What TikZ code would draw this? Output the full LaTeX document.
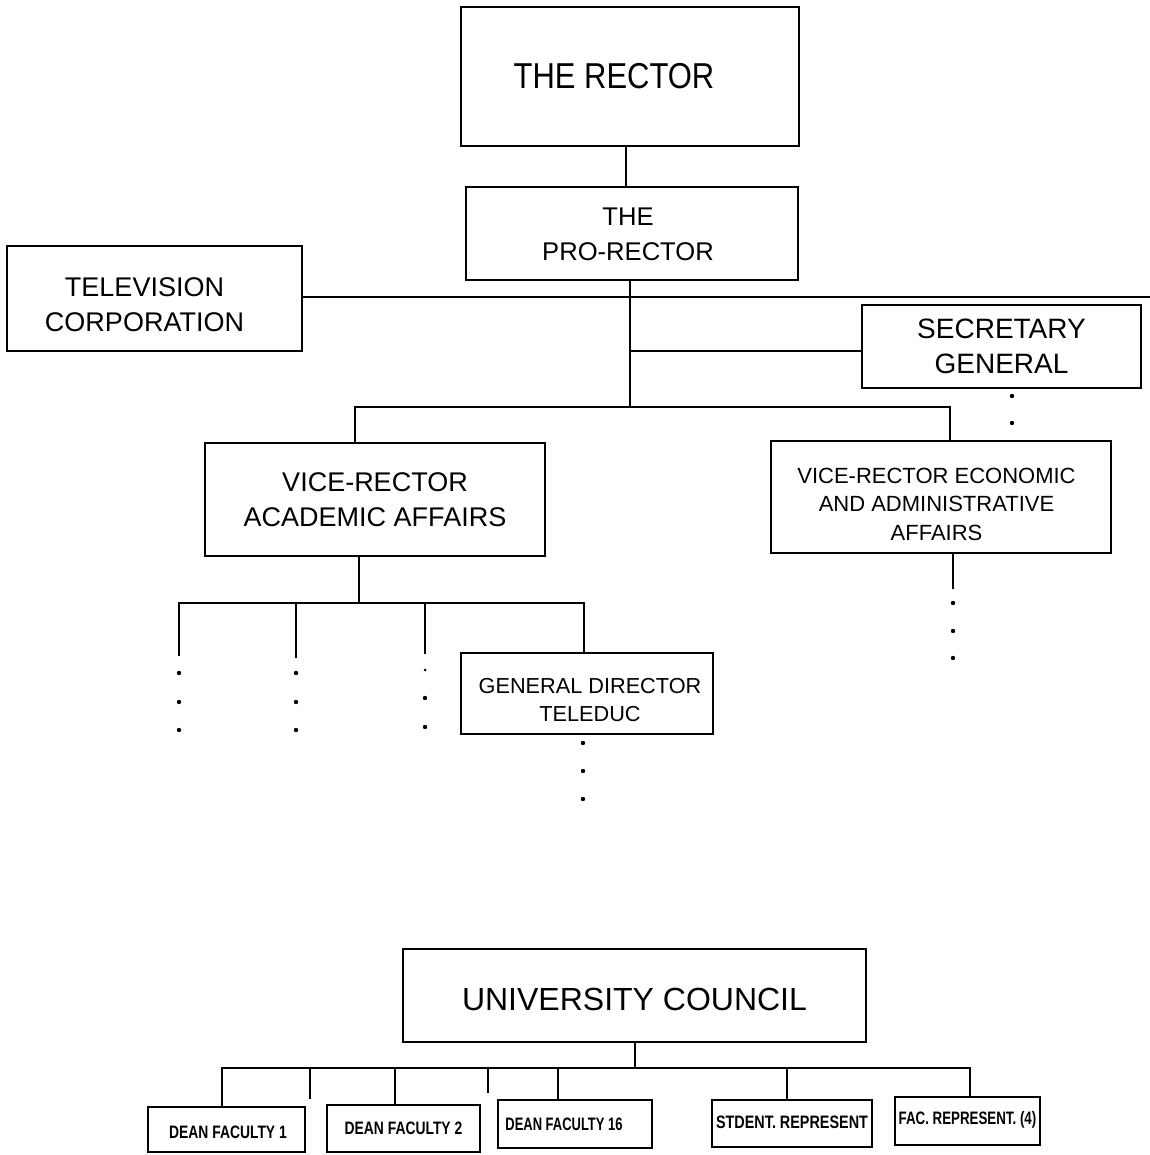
\documentclass[tikz,border=0pt]{standalone}
\usepackage{fontspec}
\setmainfont{Liberation Sans}
\newcommand{\setfs}[2]{\fontsize{#1}{#2}\selectfont}
\newcommand{\nar}[2]{\scalebox{#1}[1]{#2}}
\newcommand{\stk}[1]{\begin{tabular}{@{}c@{}}#1\end{tabular}}
\newcommand{\lowr}[2]{\raisebox{-#1}[\height][\depth]{#2}}
\begin{document}
\begin{tikzpicture}[x=1pt,y=-1pt]
\tikzset{
  box/.style={draw=black, line width=1.8pt, inner sep=0pt, rectangle},
  ln/.style={line width=1.8pt, line cap=rect},
  dotm/.style={fill=black}
}
\useasboundingbox (0,0) rectangle (1149,1155);
\fill[white] (0,0) rectangle (1149,1155);

% ---------- boxes ----------
\node[box, minimum width=338, minimum height=139] (rector) at (630,76.5)
  {\setfs{36}{40}\nar{0.86}{THE RECTOR}\kern32pt};
\node[box, minimum width=332, minimum height=93] (pro) at (632,233.5)
  {\setfs{25.6}{35}\lowr{3pt}{\stk{THE\\PRO-RECTOR}}\kern8pt};
\node[box, minimum width=295, minimum height=105] (tv) at (154.5,298.5)
  {\setfs{27}{35}\lowr{9pt}{\stk{TELEVISION\\CORPORATION}}\kern20pt};
\node[box, minimum width=279, minimum height=83] (sec) at (1001.5,346.5)
  {\setfs{28}{35}\lowr{2.5pt}{\stk{SECRETARY\\GENERAL}}};
\node[box, minimum width=340, minimum height=113] (vra) at (375,499.5)
  {\setfs{27}{35}\lowr{2.5pt}{\stk{VICE-RECTOR\\ACADEMIC AFFAIRS}}};
\node[box, minimum width=340, minimum height=112] (vrea) at (941,497)
  {\setfs{22}{28.5}\lowr{9pt}{\stk{VICE-RECTOR ECONOMIC\\AND ADMINISTRATIVE\\AFFAIRS}}\kern9pt};
\node[box, minimum width=252, minimum height=81] (gdt) at (587,693.5)
  {\setfs{21.7}{28}\lowr{8pt}{\stk{GENERAL DIRECTOR\\TELEDUC}}\kern-6pt};
\node[box, minimum width=463, minimum height=93] (uc) at (634.5,995.5)
  {\setfs{32}{38}\lowr{4pt}{UNIVERSITY COUNCIL}};

\node[box, minimum width=157, minimum height=45] (df1) at (226.5,1129.5)
  {\setfs{18}{20}\lowr{3pt}{\nar{0.77}{\bfseries DEAN FACULTY 1}}\kern-3pt};
\node[box, minimum width=153, minimum height=47] (df2) at (403.5,1128.5)
  {\setfs{18}{20}\nar{0.77}{\bfseries DEAN FACULTY 2}};
\node[box, minimum width=154, minimum height=48] (df16) at (575,1124)
  {\setfs{18}{20}\nar{0.72}{\bfseries DEAN FACULTY 16}\kern22pt};
\node[box, minimum width=160, minimum height=47] (stu) at (792,1123.5)
  {\setfs{18}{20}\lowr{-1pt}{\nar{0.8}{\bfseries STDENT. REPRESENT}}};
\node[box, minimum width=145, minimum height=48] (fac) at (967.5,1121)
  {\setfs{18}{20}\lowr{-1pt}{\nar{0.74}{\bfseries FAC. REPRESENT. (4)}}};

% ---------- junction coordinates ----------
\coordinate (vA) at (626,0);
\coordinate (j1) at (630,407);
\coordinate (eR) at (1149,297);
\coordinate (js) at (630,351);
\coordinate (jL) at (355,407);
\coordinate (jR) at (950,407);
\coordinate (j2) at (359,603);
\coordinate (b1) at (179,603);
\coordinate (b2) at (296,603);
\coordinate (b3) at (425,603);
\coordinate (b4) at (584,603);
\coordinate (e1) at (179,655);
\coordinate (e2) at (296,657);
\coordinate (e3) at (425,653);
\coordinate (v5) at (953,0);
\coordinate (e5) at (953,588);

\coordinate (k0) at (635,1068);
\coordinate (kL) at (222,1068);
\coordinate (kR) at (970,1068);
\coordinate (s1) at (310,1068);
\coordinate (t1) at (310,1098);
\coordinate (s2) at (488,1068);
\coordinate (t2) at (488,1092);

% ---------- connectors ----------
\draw[ln] (rector.south -| vA) -- (pro.north -| vA);
\draw[ln] (pro.south -| j1) -- (j1);
\draw[ln] (tv.east |- eR) -- (eR);
\draw[ln] (js) -- (sec.west |- js);
\draw[ln] (jL) -- (jR);
\draw[ln] (jL) -- (vra.north -| jL);
\draw[ln] (jR) -- (vrea.north -| jR);
\draw[ln] (vra.south -| j2) -- (j2);
\draw[ln] (b1) -- (b4);
\draw[ln] (b1) -- (e1);
\draw[ln] (b2) -- (e2);
\draw[ln] (b3) -- (e3);
\draw[ln] (b4) -- (gdt.north -| b4);
\draw[ln] (vrea.south -| v5) -- (e5);

\draw[ln] (uc.south -| k0) -- (k0);
\draw[ln] (kL) -- (kR);
\draw[ln] (kL) -- (df1.north -| kL);
\draw[ln] (s1) -- (t1);
\draw[ln] (df2.north -| 395,0) -- (395,1068);
\draw[ln] (s2) -- (t2);
\draw[ln] (df16.north -| 558,0) -- (558,1068);
\draw[ln] (stu.north -| 787,0) -- (787,1068);
\draw[ln] (kR) -- (fac.north -| kR);

% ---------- dots ----------
\foreach \yy in {673,702,730} {
  \fill[dotm] (179,\yy) circle (2.2pt);
  \fill[dotm] (296,\yy) circle (2.2pt);
}
\fill[dotm] (425,670) circle (1.5pt);
\foreach \yy in {698,727} { \fill[dotm] (425,\yy) circle (2.2pt); }
\foreach \yy in {743,771,799} { \fill[dotm] (583,\yy) circle (2.2pt); }
\foreach \yy in {603,631,658} { \fill[dotm] (953,\yy) circle (2.2pt); }
\foreach \yy in {396,423} { \fill[dotm] (1012,\yy) circle (2.2pt); }
\end{tikzpicture}
\end{document}
